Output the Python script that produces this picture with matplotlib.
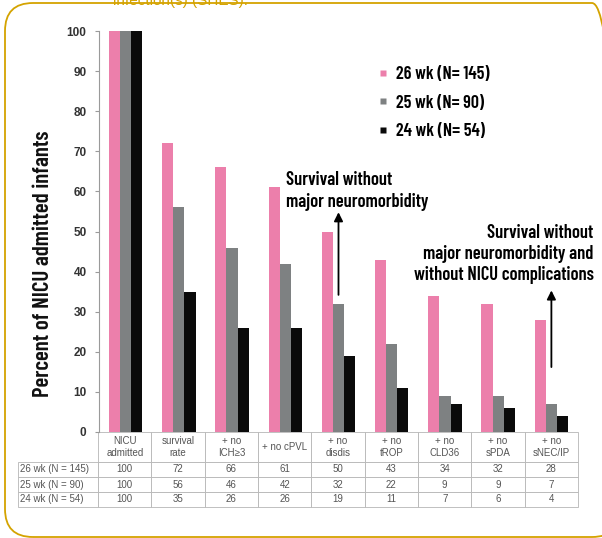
import numpy as np
import matplotlib.pyplot as plt
from matplotlib.patches import FancyBboxPatch
from matplotlib.lines import Line2D

# data
categories = ["NICU\nadmitted", "survival\nrate", "+ no\nICH≥3", "+ no cPVL", "+ no\ndisdis",
              "+ no\ntROP", "+ no\nCLD36", "+ no\nsPDA", "+ no\nsNEC/IP"]
wk26 = [100, 72, 66, 61, 50, 43, 34, 32, 28]
wk25 = [100, 56, 46, 42, 32, 22, 9, 9, 7]
wk24 = [100, 35, 26, 26, 19, 11, 7, 6, 4]
series_labels = ["26 wk (N= 145)", "25 wk (N= 90)", "24 wk (N= 54)"]
row_labels = ["26 wk (N = 145)", "25 wk (N = 90)", "24 wk (N = 54)"]
colors = ["#ec7fab", "#7e8182", "#0a0a0a"]

narrow = ["Barlow Condensed", "DejaVu Sans"]
plain = ["Liberation Sans", "DejaVu Sans"]
cond = dict(family=narrow, fontweight=600, fontstretch="condensed")

W, H = 602, 538
fig = plt.figure(figsize=(W / 100, H / 100), dpi=100)

# axes placed in pixel terms
x0, x1 = 99, 578
y0, y1 = 432, 31
ax = fig.add_axes([x0 / W, 1 - y0 / H, (x1 - x0) / W, (y0 - y1) / H])

x = np.arange(len(categories))
bw = 0.21
for i, (vals, c) in enumerate(zip([wk26, wk25, wk24], colors)):
    ax.bar(x + (i - 1) * bw, vals, width=bw, color=c, edgecolor="none")

ax.set_xlim(-0.5, len(categories) - 0.5)
ax.set_ylim(0, 100)
ax.set_yticks(range(0, 101, 10))
ax.set_xticks([])
for s in ["top", "right", "bottom"]:
    ax.spines[s].set_visible(False)
ax.spines["left"].set_color("#9a9a9a")
ax.spines["left"].set_linewidth(0.8)
ax.tick_params(axis="y", length=3, color="#9a9a9a", pad=6)
for t in ax.get_yticklabels():
    t.set_fontfamily(plain)
    t.set_fontweight("bold")
    t.set_fontsize(8.5)
    t.set_color("#333333")

ax.set_ylabel("Percent of NICU admitted infants", fontsize=16.5, color="#111111", **cond)
ax.yaxis.set_label_coords((43 - x0) / (x1 - x0), 0.42)
ax.yaxis.label.set_va("center")

# table under the plot; first column holds the row labels
cell_text = [[lab] + [str(v) for v in row] for lab, row in zip(row_labels, [wk26, wk25, wk24])]
th = (507 - 432) / (y0 - y1)
tl = (x0 - 18) / (x1 - x0)
tbl = ax.table(cellText=cell_text, colLabels=[""] + categories, cellLoc="center",
               bbox=[-tl, -th, 1 + tl, th])
tbl.auto_set_font_size(False)
for (r, c), cell in tbl.get_celld().items():
    cell.set_edgecolor("#b5b5b5")
    cell.set_linewidth(0.6)
    cell.get_text().set_fontfamily(plain)
    cell.get_text().set_fontsize(7)
    cell.get_text().set_color("#555555")
    cell.set_height(2.0 if r == 0 else 1.0)
    cell.set_width(80 if c == 0 else 53.2)
    if c == 0:
        cell._loc = "left"
        cell.get_text().set_ha("left")
        cell.PAD = 0.03
    if r == 0 and c == 0:
        cell.visible_edges = ""

# legend
handles = [Line2D([], [], marker="s", linestyle="none", markersize=4,
                  markerfacecolor=c, markeredgecolor="none") for c in colors]
ax.legend(handles, series_labels, loc="upper left", bbox_to_anchor=(367 / W, 1 - 57 / H),
          bbox_transform=fig.transFigure, frameon=False, borderpad=0, handlelength=0.8,
          handletextpad=0.3, labelspacing=0.65,
          prop={"family": narrow, "weight": 600, "size": 13})

# annotations
ax.text(3.015, 65.0, "Survival without\nmajor neuromorbidity", ha="left", va="top",
        fontsize=13.3, linespacing=1.28, **cond)
ax.annotate("", xy=(4, 55.5), xytext=(4, 33.5),
            arrowprops=dict(arrowstyle="-|>", color="black", lw=1.3, mutation_scale=13))
ax.text(8.79, 51.8, "Survival without\nmajor neuromorbidity and\nwithout NICU complications",
        ha="right", va="top", fontsize=13.3, linespacing=1.2, **cond)
ax.annotate("", xy=(8, 36), xytext=(8, 15.5),
            arrowprops=dict(arrowstyle="-|>", color="black", lw=1.3, mutation_scale=13))

# rounded gold frame and cut-off heading
frame = FancyBboxPatch((0.05, 0.01), 6.15, 5.34, boxstyle="round,pad=0,rounding_size=0.28",
                       transform=fig.dpi_scale_trans, facecolor="none", edgecolor="#d4a300",
                       linewidth=1.3)
fig.patches.append(frame)
fig.text(113 / W, 1 - 8 / H, "infection(s) (SHES).", ha="left", va="bottom",
         color="#d4a300", fontsize=11, family=plain)

fig.savefig("out.png", dpi=100)
